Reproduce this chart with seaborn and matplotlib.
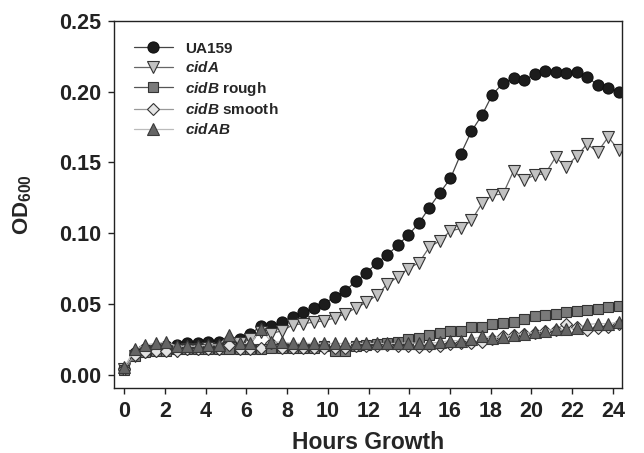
import matplotlib
matplotlib.use("Agg")
import matplotlib.pyplot as plt
import seaborn as sns
import pandas as pd

hours = [0.00, 0.52, 1.03, 1.55, 2.07, 2.58, 3.10, 3.62, 4.13, 4.65, 5.17, 5.68,
         6.20, 6.72, 7.23, 7.75, 8.27, 8.78, 9.30, 9.82, 10.33, 10.85, 11.37, 11.88,
         12.40, 12.92, 13.43, 13.95, 14.47, 14.98, 15.50, 16.02, 16.53, 17.05, 17.57, 18.08,
         18.60, 19.12, 19.63, 20.15, 20.67, 21.18, 21.70, 22.22, 22.73, 23.25, 23.77, 24.28]

ua159 = [0.004, 0.015, 0.018, 0.019, 0.020, 0.021, 0.022, 0.022, 0.023, 0.023, 0.024, 0.025,
         0.029, 0.034, 0.034, 0.037, 0.041, 0.044, 0.047, 0.050, 0.055, 0.059, 0.066, 0.0715,
         0.079, 0.0844, 0.0915, 0.0986, 0.107, 0.118, 0.1285, 0.1387, 0.156, 0.172, 0.1835, 0.198,
         0.206, 0.2095, 0.208, 0.2125, 0.2149, 0.214, 0.213, 0.214, 0.2106, 0.2047, 0.203, 0.200]

cidA = [0.004, 0.013, 0.016, 0.017, 0.018, 0.017, 0.018, 0.018, 0.019, 0.018, 0.019, 0.022,
        0.025, 0.030, 0.029, 0.031, 0.035, 0.036, 0.037, 0.038, 0.040, 0.043, 0.047, 0.051,
        0.056, 0.064, 0.069, 0.075, 0.079, 0.090, 0.0946, 0.1016, 0.1033, 0.109, 0.121, 0.127,
        0.1276, 0.144, 0.1375, 0.141, 0.142, 0.1536, 0.147, 0.1545, 0.163, 0.1575, 0.168, 0.1587]

cidB_rough = [0.003, 0.013, 0.016, 0.017, 0.017, 0.018, 0.018, 0.018, 0.018, 0.018, 0.018, 0.018,
              0.018, 0.018, 0.019, 0.019, 0.019, 0.019, 0.019, 0.020, 0.017, 0.017, 0.020, 0.021,
              0.0215, 0.0225, 0.023, 0.025, 0.026, 0.0283, 0.0295, 0.031, 0.031, 0.0333, 0.0333, 0.036,
              0.0368, 0.0372, 0.039, 0.0413, 0.042, 0.0427, 0.0443, 0.045, 0.046, 0.0467, 0.0478, 0.0483]

cidB_smooth = [0.004, 0.014, 0.016, 0.017, 0.017, 0.017, 0.018, 0.018, 0.018, 0.018, 0.021, 0.018,
               0.018, 0.019, 0.022, 0.019, 0.019, 0.019, 0.019, 0.019, 0.019, 0.019, 0.020, 0.020,
               0.020, 0.021, 0.020, 0.020, 0.0195, 0.020, 0.020, 0.0215, 0.022, 0.0225, 0.023, 0.0248,
               0.027, 0.028, 0.029, 0.0295, 0.031, 0.0318, 0.036, 0.0336, 0.0318, 0.033, 0.0337, 0.036]

cidAB = [0.005, 0.018, 0.021, 0.022, 0.023, 0.020, 0.020, 0.020, 0.021, 0.021, 0.028, 0.022,
         0.022, 0.032, 0.023, 0.023, 0.022, 0.022, 0.022, 0.022, 0.022, 0.022, 0.022, 0.022,
         0.022, 0.022, 0.022, 0.0225, 0.022, 0.022, 0.023, 0.024, 0.024, 0.025, 0.027, 0.026,
         0.0268, 0.028, 0.029, 0.030, 0.031, 0.032, 0.032, 0.033, 0.0355, 0.036, 0.036, 0.037]

labels = ["UA159", r"$\mathbfit{cidA}$", r"$\mathbfit{cidB}$ rough",
          r"$\mathbfit{cidB}$ smooth", r"$\mathbfit{cidAB}$"]
x_ticks = [0, 2, 4, 6, 8, 10, 12, 14, 16, 18, 20, 22, 24]
y_ticks = [0.00, 0.05, 0.10, 0.15, 0.20, 0.25]

sns.set_style("ticks")
plt.rcParams["font.family"] = ["Liberation Sans", "DejaVu Sans"]
plt.rcParams["font.weight"] = "bold"
plt.rcParams["mathtext.fontset"] = "custom"
plt.rcParams["mathtext.rm"] = "Liberation Sans:bold"
plt.rcParams["mathtext.bf"] = "Liberation Sans:bold"
plt.rcParams["mathtext.it"] = "Liberation Sans:italic:bold"
plt.rcParams["mathtext.bfit"] = "Liberation Sans:italic:bold"

fig = plt.figure(figsize=(6.44, 4.53), dpi=100)
ax = fig.add_axes([0.177, 0.1435, 0.789, 0.810])

series = [ua159, cidA, cidB_rough, cidB_smooth, cidAB]
styles = [
    dict(marker="o", ms=8.0, mfc="#1c1c1c", mec="#111111", color="#444444"),
    dict(marker="v", ms=8.3, mfc="#c2c2c2", mec="#333333", color="#666666"),
    dict(marker="s", ms=7.0, mfc="#7a7a7a", mec="#333333", color="#555555"),
    dict(marker="D", ms=5.8, mfc="#e4e4e4", mec="#333333", color="#999999"),
    dict(marker="^", ms=8.3, mfc="#656565", mec="#3a3a3a", color="#bbbbbb"),
]
for vals, lab, st in zip(series, labels, styles):
    df = pd.DataFrame({"h": hours, "od": vals})
    sns.lineplot(data=df, x="h", y="od", ax=ax, estimator=None, sort=False,
                 marker=st["marker"], markersize=st["ms"], markerfacecolor=st["mfc"],
                 markeredgecolor=st["mec"], markeredgewidth=0.8, color=st["color"],
                 linewidth=0.9, label=lab)

ax.set_xlim(-0.5, 24.45)
ax.set_ylim(-0.0095, 0.25)
ax.set_xticks(x_ticks)
ax.set_yticks(y_ticks)
ax.set_yticklabels([f"{v:.2f}" for v in y_ticks])
ax.tick_params(axis="both", labelsize=15.5, direction="out", length=4.3, width=1,
               pad=5, colors="#222222", top=False, right=False)
for lbl in ax.get_xticklabels() + ax.get_yticklabels():
    lbl.set_fontweight("bold")
for sp in ax.spines.values():
    sp.set_visible(True)
    sp.set_color("#222222")
    sp.set_linewidth(1.0)

ax.set_xlabel("Hours Growth", fontsize=16.5, fontweight="bold", labelpad=6.5)
ax.set_ylabel(r"OD$_{\mathbf{600}}$", fontsize=16, fontweight="bold", labelpad=18)

leg = ax.legend(loc="upper left", bbox_to_anchor=(0.04, 0.944), frameon=False,
                handlelength=2.5, handletextpad=0.8, labelspacing=0.3,
                borderpad=0, borderaxespad=0,
                prop={"weight": "bold", "size": 11})

fig.savefig("out.png", dpi=100)
